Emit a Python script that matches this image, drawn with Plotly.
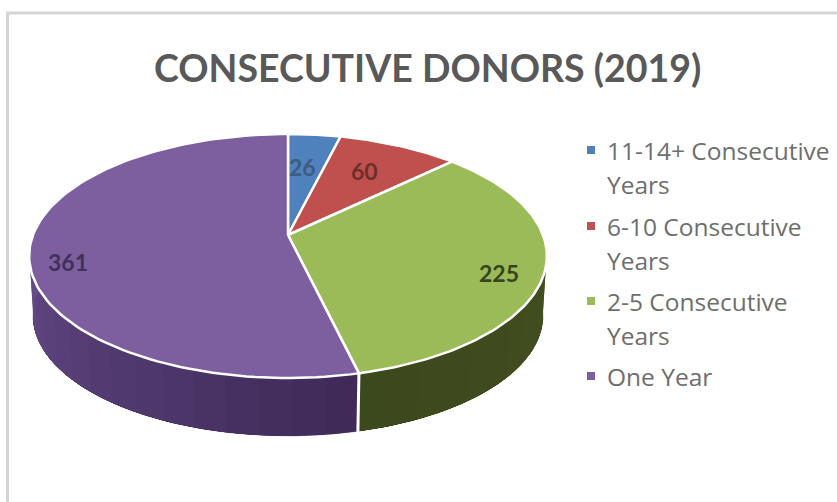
import numpy as np
import plotly.graph_objects as go

TITLE = "CONSECUTIVE DONORS (2019)"
CATEGORIES = ["11-14+ Consecutive Years", "6-10 Consecutive Years", "2-5 Consecutive Years", "One Year"]
VALUES = [26, 60, 225, 361]
LEGEND_LINES = [["11-14+ Consecutive", "Years"], ["6-10 Consecutive", "Years"], ["2-5 Consecutive", "Years"], ["One Year"]]

TOP_COLORS = ["#4f81bd", "#c0504d", "#9bbb59", "#7d5fa0"]
LABEL_COLORS = ["#3d5c80", "#6e2e2c", "#35451f", "#40305a"]
SIDE_LIGHT = ["#3a5a80", "#7a302e", "#435021", "#6c5090"]
SIDE_DARK = ["#2a4060", "#5a2422", "#3c481c", "#3f2a58"]

# projection of the tilted disc onto the page (pixels)
CX, CY, A, B, K = 288.0, 235.0, 255.0, 118.4, 0.172
DEPTH, BASE_SCALE = 60.0, 0.985
LABEL_R = [0.64, 0.68, 0.84, 0.86]
LABEL_SHIFT = [-1.5, -1.0, 5.0, -8.0]


def project(theta_deg, r=1.0, base=False):
    t = np.radians(theta_deg)
    X, Y = r * np.sin(t), r * np.cos(t)
    w = 1 + K * Y
    s = BASE_SCALE if base else 1.0
    return CX + s * A * X / w, CY - s * B * Y / w + (DEPTH if base else 0.0)


def hex_mix(a, b, f):
    ca = [int(a[i:i + 2], 16) for i in (1, 3, 5)]
    cb = [int(b[i:i + 2], 16) for i in (1, 3, 5)]
    return "#" + "".join(f"{round(x + (y - x) * f):02x}" for x, y in zip(ca, cb))


total = sum(VALUES)
edges = np.concatenate([[0], np.cumsum(VALUES)]) * 360.0 / total
fig = go.Figure()

# side wall: a solid base per slice, then overlapping shaded strips
SIDE_START, SIDE_END = 80.0, 280.0
for i in range(len(VALUES)):
    lo, hi = max(edges[i], SIDE_START), min(edges[i + 1], SIDE_END)
    if hi <= lo:
        continue
    seg = np.linspace(lo, hi, 120)
    xt, yt = project(seg)
    xb, yb = project(seg, base=True)
    base_col = hex_mix(SIDE_LIGHT[i], SIDE_DARK[i], 0.5)
    fig.add_trace(go.Scatter(
        x=np.concatenate([xt, xb[::-1]]), y=np.concatenate([yt, yb[::-1]]),
        mode="lines", fill="toself", fillcolor=base_col, line=dict(color=base_col, width=0.5),
        hoverinfo="skip", showlegend=False))
    n = max(2, int((hi - lo) / 6))
    ts = np.linspace(lo, hi, n + 1)
    for j in range(n):
        # each strip runs on to the end of the slice, so later ones paint over earlier ones
        seg = np.linspace(ts[j], hi, 60)
        xt, yt = project(seg)
        xb, yb = project(seg, base=True)
        f = (ts[j] - lo) / (hi - lo)
        c = hex_mix(SIDE_DARK[i], SIDE_LIGHT[i], f) if i == 3 else hex_mix(SIDE_LIGHT[i], SIDE_DARK[i], f)
        fig.add_trace(go.Scatter(
            x=np.concatenate([xt, xb[::-1]]), y=np.concatenate([yt, yb[::-1]]),
            mode="lines", fill="toself", fillcolor=c, line=dict(width=0),
            hoverinfo="skip", showlegend=False))

# top face wedges
for i, cat in enumerate(CATEGORIES):
    seg = np.linspace(edges[i], edges[i + 1], 120)
    xs, ys = project(seg)
    fig.add_trace(go.Scatter(
        x=np.concatenate([[CX], xs, [CX]]), y=np.concatenate([[CY], ys, [CY]]),
        mode="lines", fill="toself", fillcolor=TOP_COLORS[i],
        line=dict(color="#ffffff", width=2.5), name=cat,
        text=f"{cat}: {VALUES[i]}", hoverinfo="text", showlegend=False))

# value labels
for i, v in enumerate(VALUES):
    lx, ly = project((edges[i] + edges[i + 1]) / 2 + LABEL_SHIFT[i], r=LABEL_R[i])
    fig.add_annotation(x=lx, y=ly, text=f"<b>{v}</b>", showarrow=False,
                       font=dict(family="Lato", size=23, color=LABEL_COLORS[i]))

# frame and white seam on the wall between the slices in front
shapes = [
    dict(type="line", x0=7.5, x1=7.5, y0=13, y1=502, line=dict(color="#d3d5d5", width=3)),
    dict(type="line", x0=6, x1=837, y0=13, y1=13, line=dict(color="#d3d5d5", width=3)),
]
for e in edges[1:-1]:
    if SIDE_START < e < SIDE_END:
        xt, yt = project(e)
        xb, yb = project(e, base=True)
        shapes.append(dict(type="line", xref="x", yref="y",
                           x0=float(xt), y0=float(yt), x1=float(xb), y1=float(yb) + 1,
                           line=dict(color="#ffffff", width=3), layer="above"))

# legend
LEGEND_ROWS = [[150, 184], [226, 260], [301, 335], [376]]
for i, (lines, rows) in enumerate(zip(LEGEND_LINES, LEGEND_ROWS)):
    shapes.append(dict(type="rect", x0=587, x1=595, y0=rows[0] - 4, y1=rows[0] + 4,
                       fillcolor=TOP_COLORS[i], line=dict(width=0)))
    for line, row in zip(lines, rows):
        fig.add_annotation(x=605, y=row, text=line, showarrow=False, xanchor="left",
                           font=dict(family="Open Sans", size=24.5, color="#6e6e6e"))

fig.add_annotation(x=427, y=67.5, text=f"<b>{TITLE}</b>", showarrow=False,
                   font=dict(family="Lato", size=37.5, color="#595959"))

fig.update_layout(
    width=837, height=502, margin=dict(l=0, r=0, t=0, b=0),
    paper_bgcolor="#ffffff", plot_bgcolor="#ffffff", showlegend=False, shapes=shapes,
    xaxis=dict(range=[0, 837], visible=False, fixedrange=True),
    yaxis=dict(range=[502, 0], visible=False, fixedrange=True),
)
fig.write_html("out.html", config={"displayModeBar": False},
               post_script="document.body.style.margin='0';document.body.style.overflow='hidden';")
